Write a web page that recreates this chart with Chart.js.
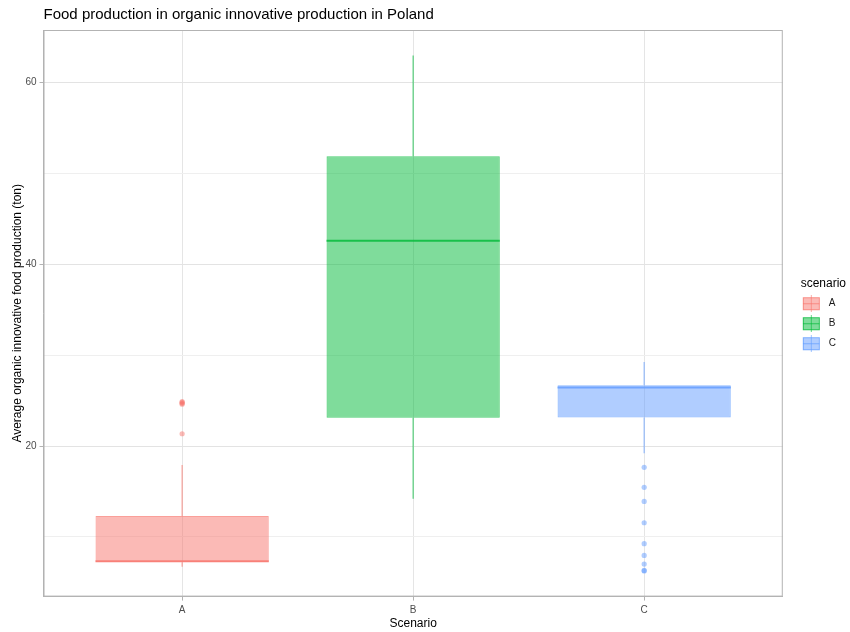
<!DOCTYPE html>
<html>
<head>
<meta charset="utf-8">
<script src="https://cdn.jsdelivr.net/npm/chart.js@4.4.1/dist/chart.umd.min.js"></script>
<style>
  body { margin: 0; background: #fff; }
  #wrap { width: 850px; height: 632px; }
</style>
</head>
<body>
<div id="wrap"><canvas id="grafico"></canvas></div>
<script>
// datos
var escenarios = ['A', 'B', 'C'];
var bigoteBajo = [6.7, 14.2, 19.2];
var cuartil1 = [7.2, 23.1, 23.15];
var mediana = [7.3, 42.6, 26.45];
var cuartil3 = [12.3, 51.9, 26.7];
var bigoteAlto = [17.9, 63.0, 29.25];
var atipicosA = [24.6, 24.7, 24.8, 24.9, 21.35];
var atipicosB = [];
var atipicosC = [17.65, 15.45, 13.9, 11.55, 9.25, 7.95, 7.0, 6.3, 6.25];
var ticksY = [10, 20, 30, 40, 50, 60];

var colores = [[248, 118, 109], [0, 186, 56], [97, 156, 255]];
function rgba(c, a) { return 'rgba(' + c[0] + ',' + c[1] + ',' + c[2] + ',' + a + ')'; }

// simbolo de la leyenda (caja con mediana y bigotes), con margen a la izquierda
function claveLeyenda(c) {
    var cv = document.createElement('canvas');
    cv.width = 31; cv.height = 17;
    var g = cv.getContext('2d');
    var x0 = 10;
    g.fillStyle = rgba(c, 0.6);
    g.fillRect(x0 + 8, 0, 1, 17);
    g.fillStyle = rgba(c, 0.5);
    g.fillRect(x0, 2, 17, 13);
    g.strokeStyle = rgba(c, 0.7);
    g.lineWidth = 1;
    g.strokeRect(x0 + 0.5, 2.5, 16, 12);
    g.fillStyle = rgba(c, 0.7);
    g.fillRect(x0, 8, 17, 1);
    return cv;
}
var claves = colores.map(claveLeyenda);

var datasets = [];
var atipicos = [atipicosA, atipicosB, atipicosC];
// puntos atipicos (encima de todo)
for (let i = 0; i < escenarios.length; i++) {
    datasets.push({
        type: 'line', label: '', showLine: false,
        data: atipicos[i].map(v => ({x: i + 1, y: v})),
        pointRadius: 2.6, pointHoverRadius: 2.6, pointBorderWidth: 0,
        pointBackgroundColor: rgba(colores[i], 0.5)
    });
}
// medianas
for (let i = 0; i < escenarios.length; i++) {
    datasets.push({
        type: 'bar', label: '', grouped: false,
        data: [{x: i + 1, y: [mediana[i] - 0.11, mediana[i] + 0.11]}],
        backgroundColor: rgba(colores[i], 0.8), borderWidth: 0,
        barPercentage: 0.75, categoryPercentage: 1
    });
}
// cajas
var primeraCaja = datasets.length;
for (let i = 0; i < escenarios.length; i++) {
    datasets.push({
        type: 'bar', label: escenarios[i], grouped: false,
        data: [{x: i + 1, y: [cuartil1[i], cuartil3[i]]}],
        backgroundColor: rgba(colores[i], 0.5),
        borderColor: rgba(colores[i], 0.7), borderWidth: 1, borderSkipped: false,
        barPercentage: 0.75, categoryPercentage: 1
    });
}
// bigotes
for (let i = 0; i < escenarios.length; i++) {
    datasets.push({
        type: 'line', label: '', spanGaps: false,
        data: [{x: i + 1, y: bigoteBajo[i]}, {x: i + 1, y: cuartil1[i]}, {x: i + 1, y: null},
               {x: i + 1, y: cuartil3[i]}, {x: i + 1, y: bigoteAlto[i]}],
        borderColor: rgba(colores[i], 0.6), borderWidth: 1.3, pointRadius: 0
    });
}

// borde del panel
var bordePanel = {
    id: 'bordePanel',
    afterDatasetsDraw(chart) {
        var a = chart.chartArea, ctx = chart.ctx;
        ctx.save();
        ctx.strokeStyle = '#b3b3b3';
        ctx.lineWidth = 1;
        ctx.strokeRect(a.left + 0.5, a.top + 0.5, a.right - a.left - 1, a.bottom - a.top - 1);
        ctx.restore();
    }
};

Chart.defaults.font.family = '"Liberation Sans", Arial, sans-serif';
Chart.defaults.animation = false;

var ctx = document.getElementById('grafico').getContext('2d');
var chart = new Chart(ctx, {
    type: 'bar',
    data: { datasets: datasets },
    plugins: [bordePanel],
    options: {
        responsive: true,
        maintainAspectRatio: false,
        layout: { padding: { left: 2, right: 4, top: 0, bottom: 1 } },
        plugins: {
            tooltip: { enabled: false },
            title: {
                display: true, text: 'Food production in organic innovative production in Poland',
                align: 'start', fullSize: false, color: '#000',
                font: { size: 15, weight: 'normal' }, padding: { top: 6, bottom: 6 }
            },
            legend: {
                position: 'right',
                title: { display: true, text: 'scenario', color: '#000', position: 'end',
                         font: { size: 12 }, padding: { top: 5, bottom: -3 } },
                labels: {
                    filter: (item) => item.text !== '',
                    usePointStyle: true, pointStyleWidth: 31, boxHeight: 10,
                    padding: 10, color: '#1a1a1a', font: { size: 10 },
                    generateLabels: (ch) => {
                        var items = Chart.defaults.plugins.legend.labels.generateLabels(ch);
                        items.forEach(it => {
                            var k = it.datasetIndex - primeraCaja;
                            if (k >= 0 && k < claves.length) it.pointStyle = claves[k];
                        });
                        return items;
                    }
                }
            }
        },
        scales: {
            x: {
                type: 'linear', min: 0.4, max: 3.6, offset: false,
                afterBuildTicks: (s) => { s.ticks = escenarios.map((e, i) => ({value: i + 1})); },
                ticks: { callback: (v) => escenarios[v - 1], color: '#4d4d4d', font: { size: 10 }, padding: 4 },
                grid: { offset: false, color: '#e5e5e5', tickColor: '#b3b3b3', tickLength: 4 },
                border: { color: '#b3b3b3' },
                title: { display: true, text: 'Scenario', color: '#000', font: { size: 12 }, padding: { top: -4, bottom: 0 } }
            },
            y: {
                min: 3.42, max: 65.8,
                afterBuildTicks: (s) => { s.ticks = ticksY.map(v => ({value: v})); },
                ticks: { callback: (v) => (v % 20 === 0 ? v : ''), color: '#4d4d4d', font: { size: 10 }, padding: 3 },
                grid: {
                    color: (c) => (c.tick && c.tick.value % 20 === 0 ? '#e3e3e3' : '#efefef'),
                    tickColor: (c) => (c.tick && c.tick.value % 20 === 0 ? '#b3b3b3' : 'rgba(0,0,0,0)'),
                    tickLength: 4
                },
                border: { color: '#b3b3b3' },
                title: { display: true, text: 'Average organic innovative food production (ton)', color: '#000',
                         font: { size: 12 }, padding: { top: 8, bottom: -2 } }
            }
        }
    }
});
</script>
</body>
</html>
